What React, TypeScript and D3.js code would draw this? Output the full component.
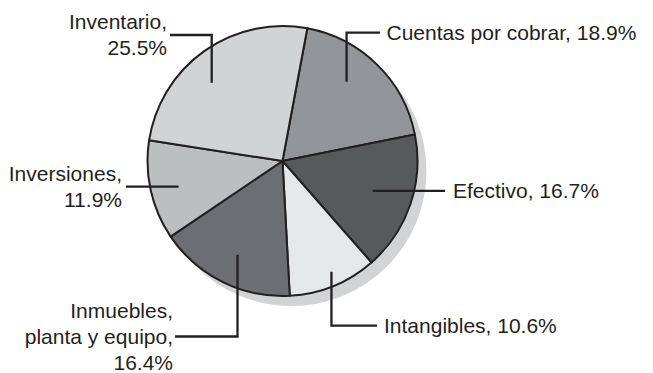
import React, { useRef, useEffect } from 'react';
import * as d3 from 'd3';

const categories = [
  'Cuentas por cobrar',
  'Efectivo',
  'Intangibles',
  'Inmuebles, planta y equipo',
  'Inversiones',
  'Inventario',
];
const values = [18.9, 16.7, 10.6, 16.4, 11.9, 25.5];
const labelLines = [
  ['Cuentas por cobrar, 18.9%'],
  ['Efectivo, 16.7%'],
  ['Intangibles, 10.6%'],
  ['Inmuebles,', 'planta y equipo,', '16.4%'],
  ['Inversiones,', '11.9%'],
  ['Inventario,', '25.5%'],
];
const fills = ['#939598', '#58595b', '#e6e7e8', '#6d6e71', '#bcbec0', '#d1d3d4'];

// leader layout: start point (offset from slice mid-angle, radius), route, label anchor
const leaders = [
  { dA: -5.7, r: 102, route: 'v', lineY: 32.7, endX: 380, tx: 386.5, anchor: 'start' },
  { dA: -0.4, r: 95, route: 'h', endX: 445, tx: 453, anchor: 'start' },
  { dA: -1.7, r: 121, route: 'v', lineY: 325.7, endX: 377, tx: 384, anchor: 'start' },
  { dA: -0.8, r: 104, route: 'v', lineY: 336.5, endX: 175, tx: 173, anchor: 'end' },
  { dA: -1.2, r: 107, route: 'h', endX: 126, tx: 122, anchor: 'end' },
  { dA: -6.8, r: 105.6, route: 'v', lineY: 35, endX: 170, tx: 167, anchor: 'end' },
];

const width = 653;
const height = 373;
const cx = 282.5;
const cy = 161;
const radius = 135;
const startDeg = 10.6;
const lineH = 26;
const ink = '#231f20';

const App = () => {
  const svgRef = useRef(null);

  useEffect(() => {
    const svg = d3.select(svgRef.current);
    svg.selectAll('*').remove();

    const g = svg.append('g').attr('transform', `translate(${cx},${cy})`);

    // drop shadow
    g.append('circle')
      .attr('cx', 9)
      .attr('cy', 10)
      .attr('r', radius)
      .attr('fill', '#d1d3d4');

    const start = (startDeg * Math.PI) / 180;
    const pie = d3.pie()
      .sort(null)
      .startAngle(start)
      .endAngle(start + 2 * Math.PI)
      .value(d => d);

    const arcs = pie(values);

    const arc = d3.arc()
      .innerRadius(0)
      .outerRadius(radius);

    g.selectAll('.slice')
      .data(arcs)
      .enter()
      .append('path')
      .attr('class', 'slice')
      .attr('d', arc)
      .attr('fill', (d, i) => fills[i])
      .attr('stroke', ink)
      .attr('stroke-width', 2)
      .attr('stroke-linejoin', 'round');

    // leader lines + labels
    arcs.forEach((d, i) => {
      const L = leaders[i];
      const mid = (d.startAngle + d.endAngle) / 2 + (L.dA * Math.PI) / 180;
      const pt = d3.arc()
        .innerRadius(L.r)
        .outerRadius(L.r)
        .centroid({ startAngle: mid, endAngle: mid });
      const sx = cx + pt[0];
      const sy = cy + pt[1];
      const ly = L.route === 'v' ? L.lineY : sy;
      const p = d3.path();
      p.moveTo(sx, sy);
      if (L.route === 'v') p.lineTo(sx, ly);
      p.lineTo(L.endX, ly);

      svg.append('path')
        .attr('d', p.toString())
        .attr('fill', 'none')
        .attr('stroke', ink)
        .attr('stroke-width', 2.3);

      const lines = labelLines[i];
      const firstBase = ly + 7.3 - ((lines.length - 1) * lineH) / 2;
      const text = svg.append('text')
        .attr('text-anchor', L.anchor)
        .attr('font-family', '"Liberation Sans", Arial, sans-serif')
        .attr('font-size', 21)
        .attr('fill', ink)
        .attr('aria-label', categories[i]);
      lines.forEach((s, j) => {
        text.append('tspan')
          .attr('x', L.tx)
          .attr('y', firstBase + j * lineH)
          .text(s);
      });
    });
  }, []);

  return (
    <svg
      ref={svgRef}
      width={width}
      height={height}
      style={{ position: 'absolute', left: 0, top: 0, background: '#fff' }}
    />
  );
};

export default App;
